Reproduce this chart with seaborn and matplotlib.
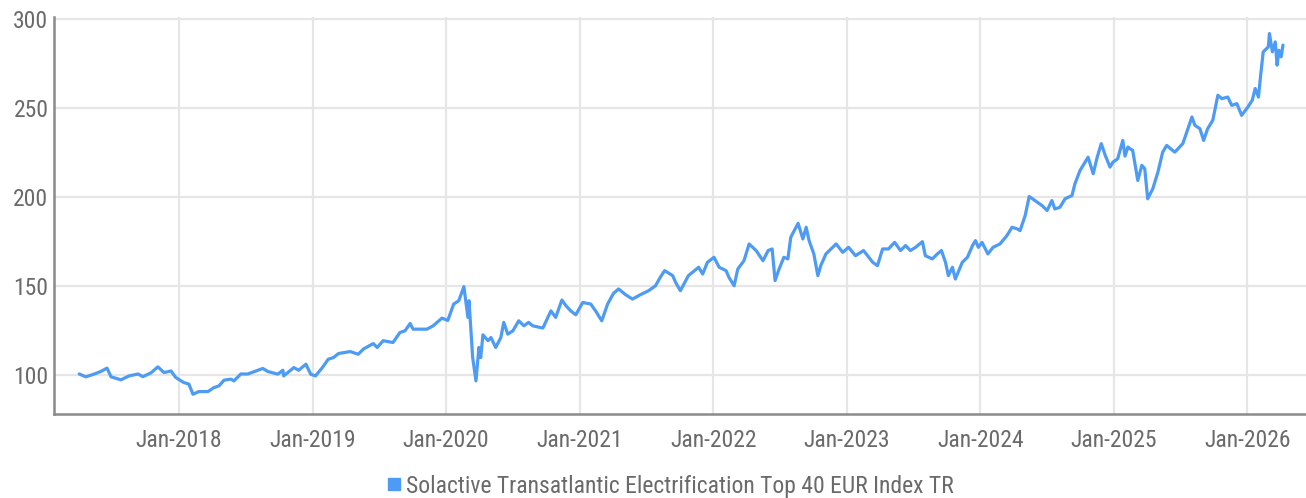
import numpy as np
import pandas as pd
import matplotlib
matplotlib.use("Agg")
import matplotlib.pyplot as plt
import matplotlib.dates as mdates
from matplotlib.lines import Line2D
from matplotlib import font_manager
import seaborn as sns

# index level (start = 100)
dates = [
    "2017-04-03", "2017-04-21", "2017-05-13", "2017-06-01", "2017-06-18", "2017-06-29",
    "2017-07-26", "2017-08-17", "2017-09-11", "2017-09-24", "2017-10-16", "2017-11-04",
    "2017-11-21", "2017-12-10", "2017-12-23",
    "2018-01-14", "2018-01-28", "2018-02-08", "2018-02-24", "2018-03-21", "2018-04-06",
    "2018-04-20", "2018-05-04", "2018-05-23", "2018-05-31", "2018-06-19", "2018-07-08",
    "2018-08-18", "2018-09-01", "2018-09-28", "2018-10-12", "2018-10-14", "2018-11-11",
    "2018-11-24", "2018-12-14", "2018-12-27",
    "2019-01-09", "2019-01-28", "2019-02-13", "2019-02-27", "2019-03-13", "2019-04-14",
    "2019-05-06", "2019-05-20", "2019-06-16", "2019-06-27", "2019-07-13", "2019-08-09",
    "2019-08-28", "2019-09-11", "2019-09-25", "2019-10-03", "2019-11-10", "2019-11-27",
    "2019-12-21",
    "2020-01-06", "2020-01-22", "2020-02-05", "2020-02-19", "2020-03-01", "2020-03-04",
    "2020-03-14", "2020-03-23", "2020-03-31", "2020-04-05", "2020-04-11", "2020-04-25",
    "2020-05-03", "2020-05-16", "2020-05-30", "2020-06-07", "2020-06-18", "2020-07-02",
    "2020-07-18", "2020-08-01", "2020-08-14", "2020-08-25", "2020-09-22", "2020-10-14",
    "2020-10-27", "2020-11-13", "2020-11-24", "2020-12-07", "2020-12-21",
    "2021-01-09", "2021-01-31", "2021-02-13", "2021-03-02", "2021-03-18", "2021-04-03",
    "2021-04-17", "2021-05-06", "2021-05-25", "2021-06-16", "2021-07-08", "2021-07-27",
    "2021-08-10", "2021-08-21", "2021-09-12", "2021-09-20", "2021-10-03", "2021-10-25",
    "2021-11-22", "2021-12-03", "2021-12-16",
    "2022-01-03", "2022-01-17", "2022-02-05", "2022-02-13", "2022-02-27", "2022-03-09",
    "2022-03-26", "2022-04-09", "2022-04-28", "2022-05-17", "2022-05-31", "2022-06-11",
    "2022-06-19", "2022-06-30", "2022-07-13", "2022-07-24", "2022-08-01", "2022-08-21",
    "2022-09-03", "2022-09-12", "2022-09-20", "2022-10-03", "2022-10-14", "2022-10-22",
    "2022-11-05", "2022-12-03", "2022-12-21",
    "2023-01-06", "2023-01-25", "2023-02-16", "2023-03-13", "2023-03-26", "2023-04-09",
    "2023-04-25", "2023-05-12", "2023-05-28", "2023-06-11", "2023-06-24", "2023-07-08",
    "2023-07-27", "2023-08-04", "2023-08-23", "2023-09-06", "2023-09-17", "2023-09-28",
    "2023-10-06", "2023-10-17", "2023-10-25", "2023-11-13", "2023-11-27", "2023-12-11",
    "2023-12-19", "2023-12-27",
    "2024-01-06", "2024-01-22", "2024-02-05", "2024-02-24", "2024-03-14", "2024-03-28",
    "2024-04-11", "2024-04-19", "2024-05-03", "2024-05-14", "2024-05-30", "2024-06-18",
    "2024-07-02", "2024-07-15", "2024-07-23", "2024-08-06", "2024-08-20", "2024-09-08",
    "2024-09-16", "2024-09-30", "2024-10-14", "2024-10-22", "2024-11-05", "2024-11-16",
    "2024-11-27", "2024-12-08", "2024-12-21", "2024-12-29",
    "2025-01-11", "2025-01-25", "2025-01-31", "2025-02-08", "2025-02-13", "2025-02-21",
    "2025-03-07", "2025-03-18", "2025-03-26", "2025-04-03", "2025-04-17", "2025-05-01",
    "2025-05-14", "2025-05-25", "2025-06-16", "2025-07-08", "2025-07-19", "2025-08-02",
    "2025-08-10", "2025-08-24", "2025-09-03", "2025-09-14", "2025-09-28", "2025-10-12",
    "2025-10-23", "2025-11-08", "2025-11-19", "2025-12-03", "2025-12-16",
    "2026-01-02", "2026-01-14", "2026-01-22", "2026-01-31", "2026-02-05", "2026-02-13",
    "2026-02-27", "2026-03-02", "2026-03-10", "2026-03-18", "2026-03-23", "2026-03-28",
    "2026-04-03", "2026-04-08",
]
values = [
    100.5, 98.9, 100.4, 101.9, 103.8, 98.9,
    97.2, 99.4, 100.5, 99.0, 101.1, 104.5,
    101.3, 102.2, 98.5,
    95.7, 94.8, 89.1, 90.6, 90.6, 92.8,
    93.8, 97.0, 97.6, 96.6, 100.5, 100.5,
    103.6, 101.9, 100.4, 102.6, 99.4, 104.1,
    102.6, 106.0, 100.4,
    99.4, 104.1, 108.8, 109.7, 112.0, 113.1,
    111.6, 114.5, 117.6, 115.4, 119.2, 118.2,
    123.8, 124.8, 128.9, 125.7, 125.7, 127.6,
    131.9,
    130.6, 139.8, 141.7, 149.6, 132.3, 141.7,
    109.7, 96.6, 115.4, 109.7, 122.5, 119.2,
    121.0, 115.4, 121.0, 129.5, 122.9, 124.8,
    130.4, 127.6, 129.5, 127.6, 126.3, 136.0,
    132.3, 142.1, 138.9, 136.0, 133.8,
    140.7, 139.8, 136.0, 130.4, 139.8, 145.8,
    148.3, 145.1, 142.6, 145.1, 147.3, 150.1,
    155.2, 158.6, 155.8, 152.0, 147.3, 155.8,
    160.5, 156.7, 163.3,
    166.1, 160.5, 158.6, 154.8, 150.1, 159.5,
    164.2, 173.6, 169.9, 164.2, 169.9, 170.8,
    153.0, 159.5, 166.1, 165.2, 177.4, 185.2,
    176.4, 183.0, 175.5, 168.0, 155.8, 161.4,
    168.0, 173.6, 168.9,
    171.7, 167.0, 169.9, 163.3, 161.4, 170.8,
    170.8, 174.5, 169.9, 172.7, 169.9, 171.7,
    174.9, 167.0, 165.2, 168.0, 169.9, 163.3,
    155.8, 160.5, 153.9, 163.3, 166.1, 172.7,
    175.5, 171.7,
    174.5, 168.0, 171.7, 173.6, 178.3, 183.0,
    182.1, 181.1, 189.6, 200.3, 198.0, 195.2,
    192.4, 198.0, 193.3, 194.2, 199.0, 200.8,
    207.4, 214.9, 219.6, 222.4, 213.1, 222.4,
    230.0, 223.4, 216.8, 219.6,
    221.5, 231.8, 223.0, 228.1, 227.2, 226.2,
    209.3, 217.8, 215.9, 199.0, 204.6, 214.0,
    225.2, 229.0, 225.2, 230.0, 236.5, 245.0,
    240.3, 238.4, 231.8, 238.4, 243.1, 257.2,
    255.3, 256.2, 251.5, 252.5, 245.9,
    250.6, 254.4, 261.0, 256.2, 266.6, 281.6,
    284.4, 291.9, 281.6, 287.2, 274.1, 282.5,
    278.8, 285.4,
]
series_name = "Solactive Transatlantic Electrification Top 40 EUR Index TR"
year_ticks = [f"{y}-01-01" for y in range(2018, 2027)]

df = pd.DataFrame({"date": pd.to_datetime(dates), "value": values})

line_color = "#4d9bf5"
text_color = "#6a6a6a"

installed = {f.name for f in font_manager.fontManager.ttflist}
main_font = "Roboto Condensed" if "Roboto Condensed" in installed else "Roboto"

sns.set_style("white")
plt.rcParams["font.family"] = [main_font, "DejaVu Sans"]
fsize = 17 if main_font == "Roboto Condensed" else 15

fig = plt.figure(figsize=(13.06, 4.98), dpi=100)
ax = fig.add_axes([54 / 1306, 1 - 414 / 498, 1 - 54 / 1306, (414 - 17) / 498])

sns.lineplot(data=df, x="date", y="value", ax=ax, color=line_color, linewidth=2.3)

ax.set_xlim(pd.Timestamp("2017-01-24"), pd.Timestamp("2026-06-10"))
ax.set_ylim(78, 301.2)
ax.set_yticks([100, 150, 200, 250, 300])
ax.set_xticks(pd.to_datetime(year_ticks))
ax.xaxis.set_major_formatter(mdates.DateFormatter("%b-%Y"))

ax.grid(True, color="#e6e6e6", linewidth=1.6)
ax.set_axisbelow(True)
for side in ["top", "right"]:
    ax.spines[side].set_visible(False)
for side in ["left", "bottom"]:
    ax.spines[side].set_color("#8a8a8a")
    ax.spines[side].set_linewidth(1.8)

ax.tick_params(axis="x", length=0, pad=11, labelsize=fsize, labelcolor=text_color)
ax.tick_params(axis="y", length=0, pad=4, labelsize=fsize, labelcolor=text_color)
ax.set_xlabel("")
ax.set_ylabel("")

handle = Line2D([], [], color=line_color, marker="s", linestyle="none", markersize=8)
leg = fig.legend([handle], [series_name], loc="center", bbox_to_anchor=(669 / 1306, 1 - 486 / 498),
                 frameon=False, handletextpad=0.1, handlelength=0.8, fontsize=fsize)
for t in leg.get_texts():
    t.set_color(text_color)

fig.savefig("out.png", dpi=100)
